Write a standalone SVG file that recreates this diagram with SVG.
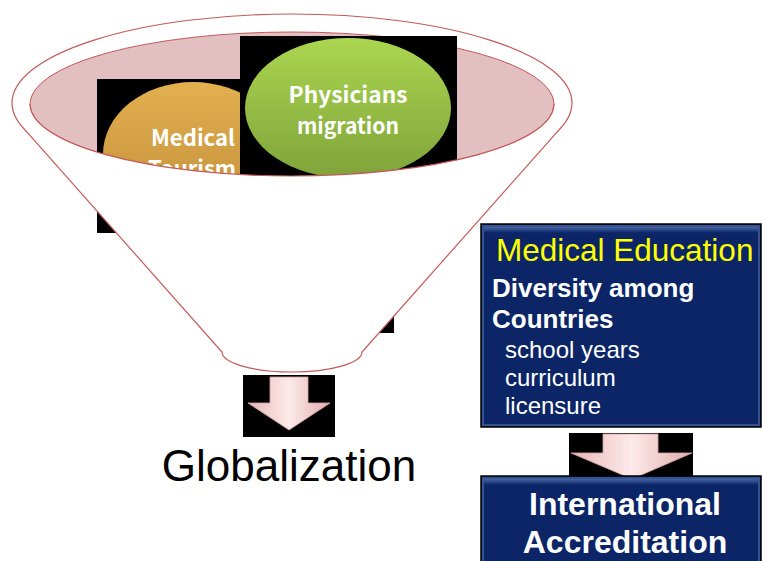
<svg xmlns="http://www.w3.org/2000/svg" width="762" height="561" viewBox="0 0 762 561">
<style>
.fl{fill:none;stroke:#c4595a;stroke-width:1.2}
.ct{font-family:"Noto Sans CJK JP","Noto Sans",sans-serif;font-weight:bold;font-size:22px;fill:#fff;text-anchor:middle}
.bt{font-family:"Liberation Sans",Arial,sans-serif;fill:#fff}
.box{fill:#0b2567;stroke:#000;stroke-width:1.5}
.bev{fill:none;stroke:#34538f;stroke-width:2}
.arr{fill:url(#ag);stroke:#d9a6a6;stroke-width:0.8}
</style>
<defs>
<linearGradient id="og" x1="0" y1="0" x2="0" y2="1">
<stop offset="0" stop-color="#e2b04f"/><stop offset="1" stop-color="#bf8c38"/>
</linearGradient>
<linearGradient id="gg" x1="0" y1="0" x2="0" y2="1">
<stop offset="0" stop-color="#abd650"/><stop offset="1" stop-color="#7fa33a"/>
</linearGradient>
<linearGradient id="ag" x1="0" y1="0" x2="1" y2="0">
<stop offset="0" stop-color="#e8b7b7"/><stop offset="0.5" stop-color="#fdeaea"/><stop offset="1" stop-color="#e2aeae"/>
</linearGradient>
<linearGradient id="band" x1="0" y1="0" x2="0" y2="1">
<stop offset="0" stop-color="#4f6fae"/><stop offset="1" stop-color="#0b2567"/>
</linearGradient>
</defs>

<g id="funnel-back">
<ellipse cx="292" cy="103" rx="280" ry="89" fill="#fff" class="fl" style="fill:#fff"/>
<ellipse cx="292" cy="104" rx="262" ry="72" style="fill:#e2bfc1;stroke:#c4595a;stroke-width:1"/>
</g>

<g id="hidden-item">
<rect x="250" y="190" width="144" height="143" fill="#000"/>
</g>

<g id="medical-tourism">
<rect x="97" y="79" width="192" height="154" fill="#000"/>
<ellipse cx="193" cy="154" rx="90" ry="72" fill="url(#og)"/>
<text class="ct" x="193" y="146" textLength="84" lengthAdjust="spacingAndGlyphs">Medical</text>
<text class="ct" x="192" y="177" textLength="88" lengthAdjust="spacingAndGlyphs">Tourism</text>
</g>

<g id="physicians-migration">
<rect x="240" y="36" width="217" height="146" fill="#000"/>
<ellipse cx="348" cy="108" rx="103" ry="70" fill="url(#gg)"/>
<text class="ct" x="348" y="103" textLength="119" lengthAdjust="spacingAndGlyphs">Physicians</text>
<text class="ct" x="348" y="134" textLength="102" lengthAdjust="spacingAndGlyphs">migration</text>
</g>

<g id="funnel-front">
<path d="M30,104 A262,72 0 0 0 554,104 L561.4,127.2 L362,352 A70,20 0 0 1 222,352 L22.6,127.2 Z" fill="#fff"/>
<path class="fl" d="M30,104 A262,72 0 0 0 554,104"/>
<path class="fl" d="M22.6,127.2 L222,352 A70,20 0 0 0 362,352 L561.4,127.2"/>
</g>

<g id="connectors">
<g id="arrow-globalization">
<rect x="243" y="375" width="92" height="62" fill="#000"/>
<polygon class="arr" points="270,377 308,377 308,403 330,403 289,430 248,403 270,403"/>
</g>
<g id="arrow-accreditation">
<rect x="569" y="433" width="124" height="47" fill="#000"/>
<polygon class="arr" points="603,434 658,434 658,453 692,453 632,479 571,453 603,453"/>
</g>
</g>

<g id="globalization">
<text x="289" y="481" text-anchor="middle" style="font-family:'Liberation Sans',Arial,sans-serif;font-size:44px;fill:#000">Globalization</text>
</g>

<g id="medical-education">
<rect class="box" x="481" y="224" width="280" height="203"/>
<rect x="483" y="226" width="276" height="7" fill="url(#band)"/>
<rect class="bev" x="483" y="226" width="276" height="199"/>
<text class="bt" x="496" y="261" style="font-size:31.5px;fill:#ffff00">Medical Education</text>
<text class="bt" x="492" y="297" style="font-size:26px;font-weight:bold">Diversity among</text>
<text class="bt" x="492" y="328" style="font-size:26px;font-weight:bold">Countries</text>
<text class="bt" x="505" y="358" style="font-size:24px">school years</text>
<text class="bt" x="505" y="386" style="font-size:24px">curriculum</text>
<text class="bt" x="505" y="414" style="font-size:24px">licensure</text>
</g>

<g id="international-accreditation">
<rect class="box" x="481" y="476" width="280" height="90"/>
<rect x="483" y="478" width="276" height="7" fill="url(#band)"/>
<rect class="bev" x="483" y="478" width="276" height="90"/>
<text class="bt" x="625" y="515" text-anchor="middle" style="font-size:32px;font-weight:bold">International</text>
<text class="bt" x="625" y="553" text-anchor="middle" style="font-size:32px;font-weight:bold">Accreditation</text>
</g>
</svg>
